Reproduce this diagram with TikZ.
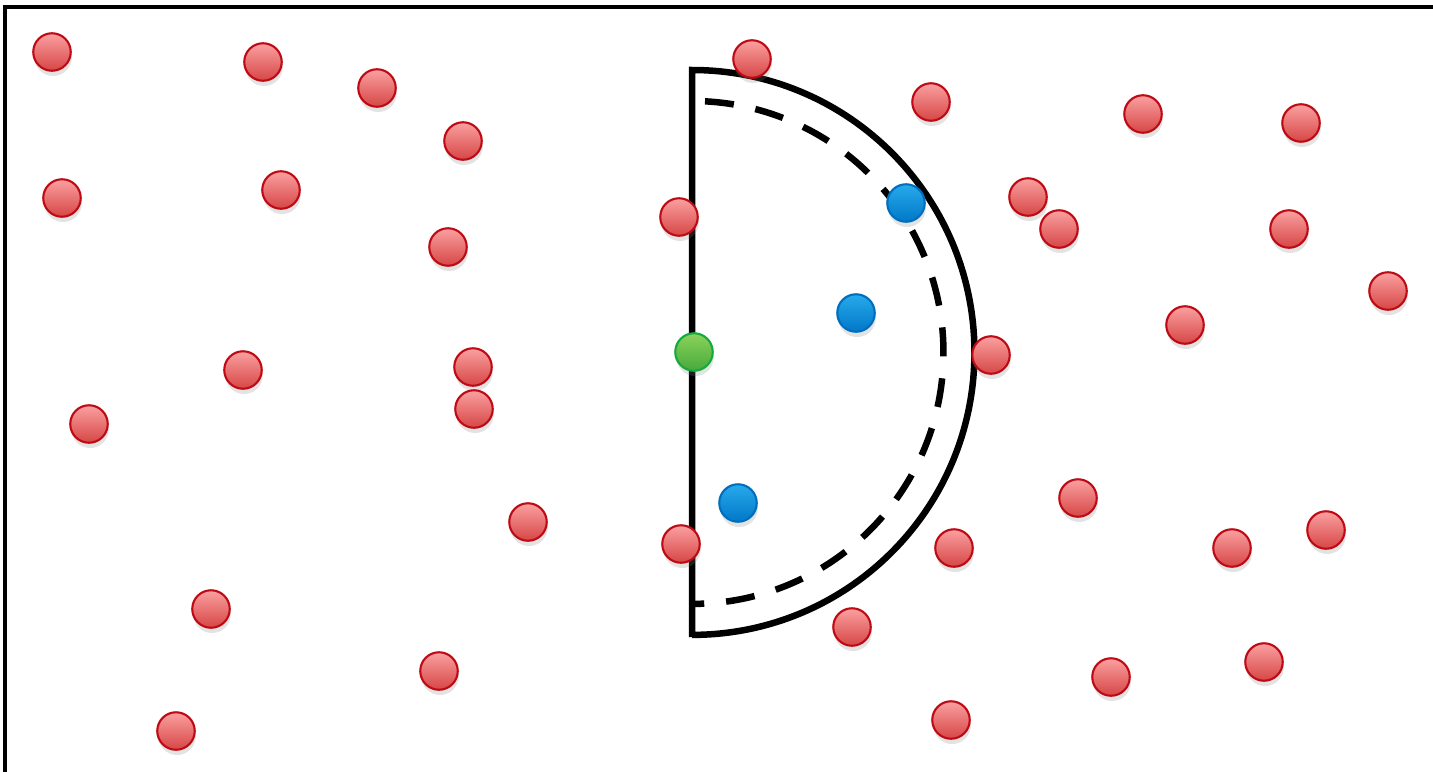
\documentclass[tikz,border=0pt]{standalone}
\usetikzlibrary{shadows}
\definecolor{redtop}{RGB}{250,160,160}
\definecolor{redbot}{RGB}{215,70,70}
\definecolor{redline}{RGB}{190,10,20}
\definecolor{bluetop}{RGB}{40,170,235}
\definecolor{bluebot}{RGB}{0,120,200}
\definecolor{blueline}{RGB}{0,110,190}
\definecolor{greentop}{RGB}{140,210,90}
\definecolor{greenbot}{RGB}{70,170,60}
\definecolor{greenline}{RGB}{20,170,60}
\tikzset{
  dot/.style={circle, inner sep=0pt, minimum size=0.75cm, line width=1.2pt,
    drop shadow={opacity=0.22, shadow xshift=0.6pt, shadow yshift=-3pt}},
  reddot/.style={dot, draw=redline, top color=redtop, bottom color=redbot},
  bluedot/.style={dot, draw=blueline, top color=bluetop, bottom color=bluebot},
  greendot/.style={dot, draw=greenline, top color=greentop, bottom color=greenbot},
  frame/.style={line width=2pt},
  boundary/.style={line width=3.7pt, line join=miter},
  inner boundary/.style={line width=3.7pt, dash pattern=on 0.58cm off 0.44cm, dash phase=0.76cm}
}
\begin{document}
\begin{tikzpicture}[x=0.02cm,y=-0.02cm]
\useasboundingbox (0,0) rectangle (1433,771);
\draw[frame] (5,775) -- (5,7) -- (1438,7);
% half disc
\draw[boundary] (692,637) -- (692,70) arc[start angle=90, end angle=-90, radius=5.65cm];
\draw[inner boundary] (692,101) arc[start angle=90, end angle=-90, radius=5.03cm];
% red points
\foreach \n/\x/\y in {r1/52/52, r2/263/62, r3/377/88, r4/463/141, r5/62/198, r6/281/190,
  r7/448/247, r8/243/370, r9/473/367, r10/474/409, r11/89/424, r12/528/522, r13/211/609,
  r14/439/671, r15/176/731, r16/679/217, r17/681/544, r18/752/59, r19/931/102, r20/1028/197,
  r21/1059/229, r22/1143/114, r23/1301/123, r24/1289/229, r25/1388/291, r26/1185/325,
  r27/991/355, r28/1078/498, r29/954/548, r30/1232/548, r31/1326/530, r32/852/627,
  r33/1111/677, r34/1264/662, r35/951/720}
  \node[reddot] (\n) at (\x,\y) {};
% blue points
\node[bluedot] (b1) at (906,203) {};
\node[bluedot] (b2) at (856,313) {};
\node[bluedot] (b3) at (738,503) {};
% green point
\node[greendot] (g1) at (694,352) {};
\end{tikzpicture}
\end{document}
